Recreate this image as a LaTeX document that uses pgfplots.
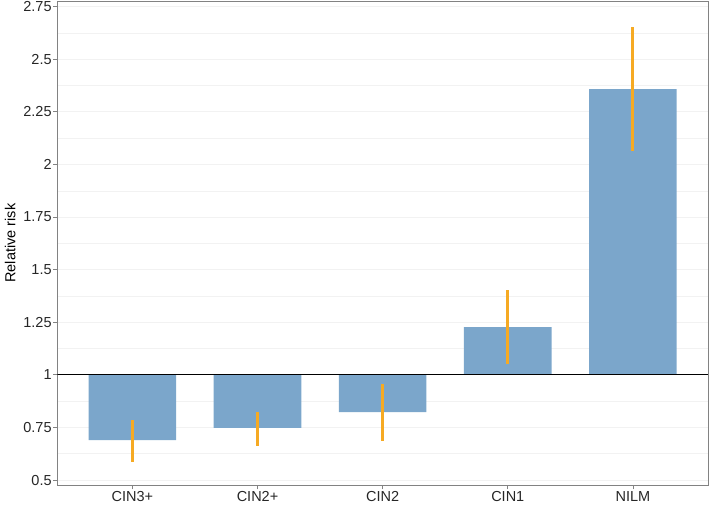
\documentclass[border=0pt]{standalone}
\usepackage{pgfplots}
\pgfplotsset{compat=1.18}
\usepackage{fontspec}
\setmainfont{Liberation Sans}
\definecolor{barblue}{RGB}{123,166,203}
\definecolor{errorange}{RGB}{246,170,35}
\definecolor{gridgray}{RGB}{242,242,242}
\definecolor{framegray}{RGB}{130,130,130}
\begin{document}
\begin{tikzpicture}
% page size of the reference, axis box at the origin
\useasboundingbox (-57.3pt,-20.7pt) rectangle (651.7pt,485.3pt);
\begin{axis}[
    at={(0,0)}, anchor=south west,
    scale only axis,
    width=650.7pt, height=484.3pt,
    xmin=-0.6, xmax=4.6,
    ymin=0.475, ymax=2.777,
    % bars grow from relative risk = 1
    y coord trafo/.code={\pgfmathparse{#1-1}},
    y coord inv trafo/.code={\pgfmathparse{#1+1}},
    xtick={0,1,2,3,4},
    xticklabels={CIN3+,CIN2+,CIN2,CIN1,NILM},
    ytick={0.5,0.75,1,1.25,1.5,1.75,2,2.25,2.5,2.75},
    minor ytick={0.625,0.875,1.125,1.375,1.625,1.875,2.125,2.375,2.625},
    ymajorgrids, yminorgrids,
    major grid style={gridgray, line width=0.8pt},
    minor grid style={gridgray, line width=0.5pt},
    tick align=outside, tick pos=left,
    major tick length=4pt, minor tick length=0pt,
    tick style={framegray, line width=0.8pt},
    axis line style={framegray, line width=0.8pt},
    /pgf/number format/assume math mode=true,
    ticklabel style={font=\fontsize{14.5}{16}\selectfont, text=black!85},
    xticklabel style={inner sep=1pt, yshift=-1pt},
    yticklabel style={inner sep=1pt, xshift=-0.5pt},
    ylabel={Relative risk},
    ylabel style={font=\fontsize{14.5}{16}\selectfont,
        at={(axis description cs:-0.0722,0.5)}, anchor=center},
]
\addplot[ybar, bar width=0.7, fill=barblue, draw=none] coordinates {
    (0,0.690) (1,0.748) (2,0.823) (3,1.227) (4,2.358)
};
\addplot[black, line width=1pt] coordinates {(-0.6,1) (4.6,1)};
\addplot[errorange, line width=3pt] coordinates {(0,0.586) (0,0.787)};
\addplot[errorange, line width=3pt] coordinates {(1,0.662) (1,0.823)};
\addplot[errorange, line width=3pt] coordinates {(2,0.685) (2,0.956)};
\addplot[errorange, line width=3pt] coordinates {(3,1.051) (3,1.403)};
\addplot[errorange, line width=3pt] coordinates {(4,2.064) (4,2.653)};
\end{axis}
\end{tikzpicture}
\end{document}
